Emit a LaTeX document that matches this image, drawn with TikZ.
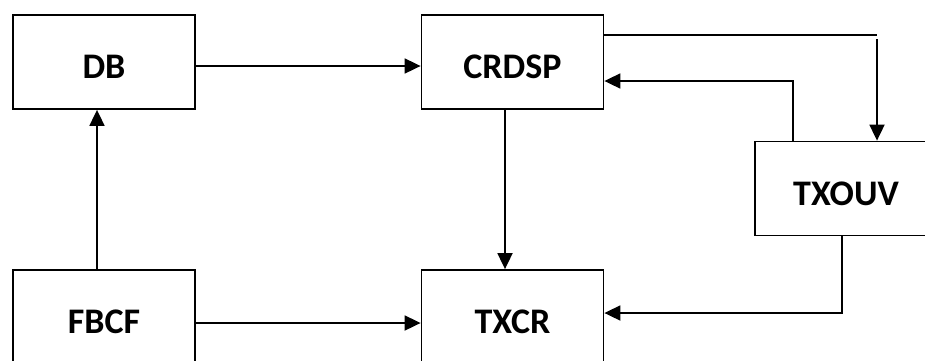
\documentclass[tikz,border=0pt]{standalone}
\usepackage{fontspec}
\setmainfont{Carlito}
\usetikzlibrary{arrows.meta}

\begin{document}
\begin{tikzpicture}[x=1pt,y=-1pt,
  blockbox/.style={draw,rectangle,line width=1.8pt,minimum width=182pt,minimum height=94pt,
    inner sep=0pt,text height=33pt,text depth=0pt,
    font=\fontsize{36}{40}\selectfont\bfseries},
  link/.style={line width=1.8pt},
  flow/.style={link,-{Triangle[length=16pt,width=15pt]}}]
  % page frame
  \clip (0,0) rectangle (925,360);
  \fill[white] (0,0) rectangle (925,360);

  % blocks
  \node[blockbox] (db)    at (104,62)    {DB};
  \node[blockbox] (crdsp) at (512.5,62)  {CRDSP};
  \node[blockbox] (txouv) at (846,188.5) {TXOUV};
  \node[blockbox] (fbcf)  at (104,317)   {FBCF};
  \node[blockbox] (txcr)  at (512.5,317) {TXCR};

  % corner of the CRDSP -> TXOUV link (small break at the bend)
  \coordinate (bendA) at (877,35);
  \coordinate (bendB) at (877,39);

  % connectors
  \draw[flow] ([yshift=-4pt]db.east) -- ([yshift=-4pt]crdsp.west);
  \draw[flow] ([yshift=-6pt]fbcf.east) -- ([yshift=-6pt]txcr.west);
  \draw[flow] ([xshift=-7pt]fbcf.north) -- ([xshift=-7pt]db.south);
  \draw[flow] ([xshift=-7.5pt]crdsp.south) -- ([xshift=-7.5pt]txcr.north);
  \draw[link] ([yshift=27pt]crdsp.east) -- (bendA);
  \draw[flow] (bendB) -- (bendB |- txouv.north);
  \draw[flow] ([xshift=-53pt]txouv.north) |- ([yshift=-19pt]crdsp.east);
  \draw[flow] ([xshift=-4pt]txouv.south) |- ([yshift=4pt]txcr.east);
\end{tikzpicture}
\end{document}
